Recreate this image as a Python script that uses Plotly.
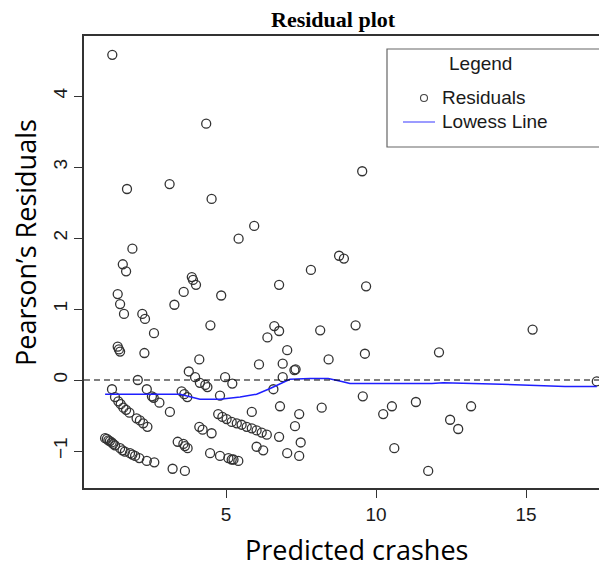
import plotly.graph_objects as go

pred = [1.21, 4.34, 1.70, 3.12, 4.52, 5.94, 5.42, 1.88, 1.56, 1.67, 3.86, 3.90, 4.00, 3.59, 4.84,
        1.39, 1.47, 3.28, 1.60, 2.21, 2.30, 4.48, 2.60, 6.38, 1.39, 1.43, 1.47, 2.28, 4.11, 6.10,
        3.76, 3.97, 4.13, 4.31, 4.38, 4.97, 5.21, 2.06, 1.20, 2.36, 2.53, 2.59, 2.78, 3.52, 3.61,
        3.71, 4.80, 5.86, 3.13, 1.30, 1.41, 1.49, 1.58, 1.67, 1.78, 2.02, 2.13, 2.24, 2.38, 4.11,
        4.22, 4.52, 4.74, 4.88, 5.02, 5.19, 5.36, 5.52, 5.69, 5.86, 6.02, 6.19, 6.36, 0.97, 1.03,
        1.08, 1.13, 1.19, 1.24, 1.30, 1.47, 1.55, 1.63, 1.80, 1.88, 1.97, 2.11, 2.36, 2.61, 3.39,
        3.58, 3.63, 3.72, 4.47, 4.80, 5.08, 5.19, 5.25, 5.41, 6.02, 6.24, 3.22, 3.63, 9.54, 8.77,
        8.93, 7.83, 6.77, 9.67, 6.61, 6.77, 8.14, 9.32, 7.04, 9.63, 6.89, 7.28, 7.32, 8.42, 6.89,
        6.58, 9.56, 6.80, 8.19, 7.44, 10.24, 10.53, 11.33, 7.30, 6.77, 7.49, 7.04, 7.44, 10.61, 11.74,
        15.22, 12.10, 17.36, 13.17, 12.47, 12.74]
resid = [4.58, 3.61, 2.69, 2.76, 2.55, 2.17, 1.99, 1.85, 1.63, 1.53, 1.45, 1.41, 1.34, 1.24, 1.19,
         1.21, 1.07, 1.06, 0.93, 0.93, 0.86, 0.77, 0.66, 0.60, 0.47, 0.43, 0.40, 0.38, 0.29, 0.22,
         0.12, 0.04, -0.04, -0.07, -0.10, 0.04, -0.05, 0.00, -0.13, -0.13, -0.23, -0.25, -0.32, -0.16, -0.20,
         -0.24, -0.22, -0.45, -0.45, -0.24, -0.30, -0.34, -0.39, -0.42, -0.46, -0.54, -0.57, -0.61, -0.66, -0.66,
         -0.70, -0.75, -0.48, -0.52, -0.55, -0.59, -0.61, -0.63, -0.66, -0.68, -0.71, -0.74, -0.77, -0.82, -0.83,
         -0.85, -0.86, -0.88, -0.90, -0.92, -0.96, -0.99, -1.01, -1.03, -1.05, -1.07, -1.10, -1.14, -1.16, -0.87,
         -0.90, -0.93, -0.96, -1.03, -1.07, -1.10, -1.12, -1.12, -1.14, -0.94, -0.99, -1.25, -1.28, 2.94, 1.75,
         1.71, 1.55, 1.34, 1.32, 0.76, 0.69, 0.70, 0.77, 0.42, 0.37, 0.23, 0.14, 0.15, 0.29, 0.04,
         -0.13, -0.23, -0.37, -0.39, -0.48, -0.48, -0.37, -0.31, -0.65, -0.80, -0.88, -1.03, -1.07, -0.96, -1.28,
         0.71, 0.39, -0.02, -0.37, -0.56, -0.69]

lowess_x = [0.97, 3.47, 4.13, 4.80, 5.47, 6.02, 6.47, 7.13, 7.80, 8.41, 8.86, 9.13, 11.86, 12.24, 14.19, 16.30, 17.36]
lowess_y = [-0.20, -0.20, -0.27, -0.27, -0.24, -0.20, -0.12, 0.01, 0.02, 0.02, -0.02, -0.05, -0.05, -0.04, -0.06, -0.09, -0.09]

x_ticks = [5, 10, 15]
y_ticks = [-1, 0, 1, 2, 3, 4]

fig = go.Figure()
fig.add_trace(go.Scatter(x=pred, y=resid, mode="markers",
                         marker=dict(symbol="circle-open", size=9, color="#333333", line=dict(width=1.3)),
                         showlegend=False))
fig.add_trace(go.Scatter(x=lowess_x, y=lowess_y, mode="lines", line=dict(color="#1f1fff", width=1.5),
                         showlegend=False))

fig.add_shape(type="line", xref="paper", x0=0, x1=1, yref="y", y0=0, y1=0,
              line=dict(color="#000000", width=1.2, dash="6px,4px"))

# page pixel -> paper coords (plot area spans page px 84..607 and 36..488)
def px2paper_x(px):
    return (px - 84) / 523.0

def px2paper_y(py):
    return (488 - py) / 452.0

fig.add_shape(type="rect", xref="paper", yref="paper",
              x0=px2paper_x(387), x1=px2paper_x(602), y0=px2paper_y(147), y1=px2paper_y(49),
              line=dict(color="#666666", width=1.2), fillcolor="white", layer="above")
fig.add_shape(type="circle", xref="paper", yref="paper", xsizemode="pixel", ysizemode="pixel",
              xanchor=px2paper_x(424), yanchor=px2paper_y(98), x0=-3.5, x1=3.5, y0=-3.5, y1=3.5,
              line=dict(color="#444444", width=1.1), layer="above")
fig.add_shape(type="line", xref="paper", yref="paper",
              x0=px2paper_x(403), x1=px2paper_x(435), y0=px2paper_y(122), y1=px2paper_y(122),
              line=dict(color="#7a7aff", width=1.5), layer="above")

leg_font = dict(family="Liberation Sans, Arial, sans-serif", size=19, color="#1a1a1a")
fig.add_annotation(text="Legend", xref="paper", yref="paper", x=px2paper_x(480), y=px2paper_y(64),
                   showarrow=False, xanchor="center", yanchor="middle", font=leg_font)
fig.add_annotation(text="Residuals", xref="paper", yref="paper", x=px2paper_x(440), y=px2paper_y(97),
                   showarrow=False, xanchor="left", yanchor="middle", font=leg_font)
fig.add_annotation(text="Lowess Line", xref="paper", yref="paper", x=px2paper_x(440), y=px2paper_y(121),
                   showarrow=False, xanchor="left", yanchor="middle", font=leg_font)

# titles
fig.add_annotation(text="<b>Residual plot</b>", xref="paper", yref="paper",
                   x=px2paper_x(333), y=px2paper_y(19), showarrow=False, xanchor="center", yanchor="middle",
                   font=dict(family="Liberation Serif, Times New Roman, serif", size=22, color="#000000"))
fig.add_annotation(text="Predicted crashes", xref="paper", yref="paper",
                   x=px2paper_x(356), y=px2paper_y(549), showarrow=False, xanchor="center", yanchor="middle",
                   font=dict(family="Open Sans, sans-serif", size=27, color="#000000"))
fig.add_annotation(text="Pearson\u2019s Residuals", xref="paper", yref="paper",
                   x=px2paper_x(25), y=px2paper_y(243), showarrow=False, xanchor="center", yanchor="middle",
                   textangle=-90,
                   font=dict(family="Open Sans, sans-serif", size=27, color="#000000"))

tick_font = dict(family="Liberation Sans, Arial, sans-serif", size=19, color="#1a1a1a")
fig.update_xaxes(range=[(84 - 76) / 30.0, (607 - 76) / 30.0], tickvals=x_ticks, ticks="outside", ticklen=8,
                 tickwidth=1.2, tickcolor="#333333", showline=True, linecolor="#333333", linewidth=1.5,
                 mirror=True, showgrid=False, zeroline=False, tickfont=tick_font)
fig.update_yaxes(range=[(380 - 488) / 71.0, (380 - 36) / 71.0], tickvals=y_ticks, ticks="outside", ticklen=8,
                 tickwidth=1.2, tickcolor="#333333", showline=True, linecolor="#333333", linewidth=1.5,
                 mirror=False, showgrid=False, zeroline=False, tickfont=tick_font, tickangle=-90)

# the page body adds an 8px offset, so the figure is 8px smaller and margins are shifted accordingly
fig.update_layout(width=599, height=559, margin=dict(l=76, r=0, t=28, b=79),
                  plot_bgcolor="white", paper_bgcolor="white", showlegend=False)

fig.write_html("out.html")
